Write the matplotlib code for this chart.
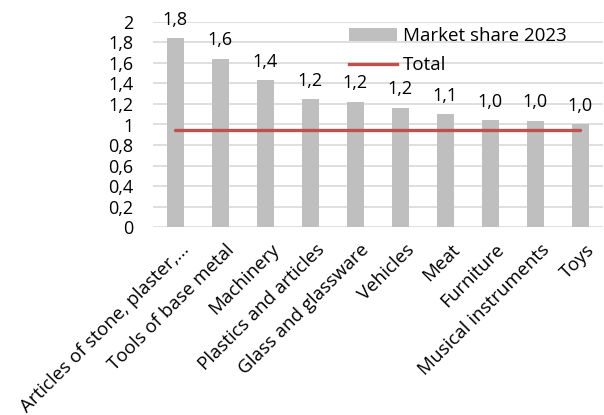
import matplotlib.pyplot as plt
from matplotlib.patches import Patch
from matplotlib.lines import Line2D
from matplotlib.transforms import ScaledTranslation

# Data
categories = ['Articles of stone, plaster,...', 'Tools of base metal', 'Machinery',
              'Plastics and articles', 'Glass and glassware', 'Vehicles', 'Meat',
              'Furniture', 'Musical instruments', 'Toys']
market_share = [1.84, 1.64, 1.43, 1.246, 1.22, 1.16, 1.10, 1.04, 1.037, 1.00]
total = [0.946] * len(categories)
yticks = [0, 0.2, 0.4, 0.6, 0.8, 1, 1.2, 1.4, 1.6, 1.8, 2]

plt.rcParams['font.family'] = ['Open Sans', 'DejaVu Sans']
plt.rcParams['font.size'] = 13

bar_color = '#BFBFBF'
line_color = '#C0504D'

fig = plt.figure(figsize=(6.04, 4.15), dpi=100)
ax = fig.add_axes([0.253, 0.453, 0.745, 0.494])

x = list(range(len(categories)))
ax.bar(x, market_share, width=0.38, color=bar_color, zorder=2)
ax.plot(x, total, color=line_color, linewidth=2.4, solid_capstyle='round', zorder=3)

for xi, v in zip(x, market_share):
    ax.annotate(f'{v:.1f}'.replace('.', ','), (xi, v), xytext=(0, 7),
                textcoords='offset points', ha='center', va='bottom', fontsize=13)

ax.set_xlim(-0.5, len(categories) - 0.5)
ax.set_ylim(0, 2)
ax.set_yticks(yticks)
ax.set_yticklabels([f'{t:g}'.replace('.', ',') for t in yticks])
ax.yaxis.grid(True, color='#D9D9D9', linewidth=1.2, zorder=0)
ax.set_axisbelow(True)
for s in ax.spines.values():
    s.set_visible(False)
ax.tick_params(axis='both', length=0, pad=2)
ax.tick_params(axis='y', pad=14)

ax.set_xticks(x)
ax.set_xticklabels(categories, rotation=45, ha='right', rotation_mode='anchor',
                   fontsize=13.5)
shift = ScaledTranslation(5 / 100, -11 / 100, fig.dpi_scale_trans)
for lbl in ax.get_xticklabels():
    lbl.set_transform(lbl.get_transform() + shift)

handles = [Patch(facecolor=bar_color, label='Market share 2023'),
           Line2D([0], [0], color=line_color, linewidth=2.4, label='Total')]
ax.legend(handles=handles, loc='upper left', bbox_to_anchor=(0.41, 1.03),
          frameon=False, handlelength=2.6, handleheight=0.75, handletextpad=0.3,
          labelspacing=0.6, borderaxespad=0.2, fontsize=13.5)

fig.savefig('out.png', dpi=100)
